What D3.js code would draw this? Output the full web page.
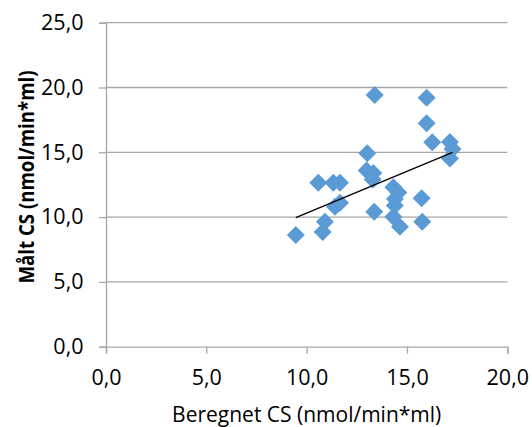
<!DOCTYPE html>
<html>
<head>
<meta charset="utf-8">
<script src="https://cdn.jsdelivr.net/npm/d3@7"></script>
<style>
  html, body { margin: 0; padding: 0; background: #fff; }
  svg text { font-family: "Open Sans", "Noto Sans", sans-serif; fill: #000; }
</style>
</head>
<body>
<svg id="chart" width="532" height="427"></svg>
<script>
// Data
const beregnet = [13.39, 15.98, 15.98, 16.26, 17.14, 17.27, 17.14, 13.02, 12.99, 13.32,
                  13.29, 10.58, 11.33, 11.66, 14.32, 14.57, 14.40, 15.73, 11.66, 11.41,
                  14.39, 13.37, 14.32, 14.65, 15.76, 10.91, 10.80, 9.46];
const maalt    = [19.42, 19.21, 17.24, 15.77, 15.80, 15.25, 14.53, 14.92, 13.60, 13.40,
                  12.90, 12.65, 12.65, 12.65, 12.30, 11.90, 11.40, 11.45, 11.10, 10.80,
                  10.90, 10.42, 10.03, 9.26, 9.65, 9.65, 8.85, 8.62];
const xTicks = [0, 5, 10, 15, 20];
const yTicks = [0, 5, 10, 15, 20, 25];
const xTitle = "Beregnet CS (nmol/min*ml)";
const yTitle = "Målt CS (nmol/min*ml)";

const svg = d3.select("#chart");
const mLeft = 106, mRight = 507.3, mTop = 22.7, mBottom = 346.7;

const x = d3.scaleLinear().domain([0, 20]).range([mLeft, mRight]);
const y = d3.scaleLinear().domain([0, 25]).range([mBottom, mTop]);
const fmt = d => d3.format(".1f")(d).replace(".", ",");
const gridColor = "#a6a6a6";

// horizontal gridlines
svg.append("g").selectAll("line").data(yTicks.filter(d => d > 0)).join("line")
  .attr("x1", mLeft).attr("x2", mRight)
  .attr("y1", d => y(d)).attr("y2", d => y(d))
  .attr("stroke", gridColor).attr("stroke-width", 1.3);

// Y axis
const yAxis = svg.append("g").attr("transform", `translate(${mLeft},0)`)
  .call(d3.axisLeft(y).tickValues(yTicks).tickFormat(fmt).tickSize(7).tickPadding(15.5));
// X axis
const xAxis = svg.append("g").attr("transform", `translate(0,${mBottom})`)
  .call(d3.axisBottom(x).tickValues(xTicks).tickFormat(fmt).tickSize(7).tickPadding(16));

[yAxis, xAxis].forEach(g => {
  g.select(".domain").attr("stroke", gridColor).attr("stroke-width", 1.3);
  g.selectAll(".tick line").attr("stroke", gridColor).attr("stroke-width", 1.3);
  g.selectAll(".tick text").style("font-size", "21.5px").attr("fill", "#000");
});

// points
const pts = beregnet.map((v, i) => [v, maalt[i]]);
const s = 9;
svg.append("g").selectAll("path").data(pts).join("path")
  .attr("d", d => {
    const cx = x(d[0]), cy = y(d[1]);
    return `M${cx},${cy - s}L${cx + s},${cy}L${cx},${cy + s}L${cx - s},${cy}Z`;
  })
  .attr("fill", "#5b9bd5");

// linear trendline (least squares)
const mx = d3.mean(beregnet), my = d3.mean(maalt);
const slope = d3.sum(pts, d => (d[0] - mx) * (d[1] - my)) / d3.sum(pts, d => (d[0] - mx) ** 2);
const icpt = my - slope * mx;
const [x0, x1] = d3.extent(beregnet);
svg.append("line")
  .attr("x1", x(x0)).attr("y1", y(icpt + slope * x0))
  .attr("x2", x(x1)).attr("y2", y(icpt + slope * x1))
  .attr("stroke", "#000").attr("stroke-width", 1.3);

// titles
svg.append("text").attr("x", 306.7).attr("y", 421.5)
  .attr("text-anchor", "middle").style("font-size", "21px").text(xTitle);
svg.append("text").attr("transform", `translate(34,177) rotate(-90)`)
  .attr("text-anchor", "middle").style("font-size", "21px").style("font-weight", "bold")
  .attr("textLength", 213).attr("lengthAdjust", "spacingAndGlyphs").text(yTitle);
</script>
</body>
</html>
